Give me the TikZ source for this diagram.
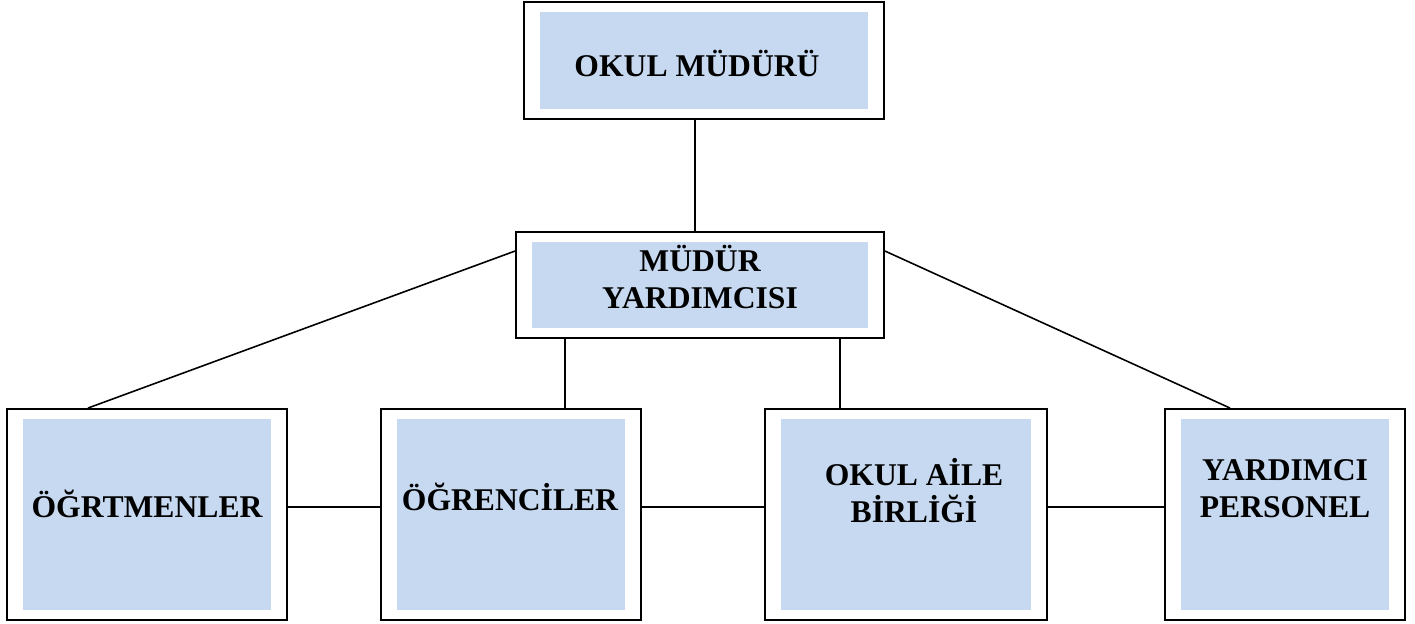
\documentclass[tikz,border=0pt]{standalone}
\usepackage{fontspec}
\setmainfont{Liberation Serif}
\definecolor{boxblue}{HTML}{C6D9F0}
\begin{document}
\begin{tikzpicture}[
    outerbox/.style={draw, line width=1.1pt, inner sep=0pt},
    label/.style={inner sep=0pt, anchor=base, align=center,
        font=\fontsize{18}{21}\selectfont\bfseries},
    conn/.style={line width=0.9pt}
]
    \useasboundingbox (0, 0) rectangle (28.3, -12.46);

    % Draw the outer boxes
    \node[outerbox, minimum width=7.2cm, minimum height=2.34cm] (mudur) at (14.08, -1.21) {};
    \node[outerbox, minimum width=7.36cm, minimum height=2.12cm] (yrd) at (14.0, -5.7) {};
    \node[outerbox, minimum width=5.6cm, minimum height=4.22cm] (ogrt) at (2.94, -10.29) {};
    \node[outerbox, minimum width=5.2cm, minimum height=4.22cm] (ogrnc) at (10.22, -10.29) {};
    \node[outerbox, minimum width=5.64cm, minimum height=4.22cm] (veli) at (18.12, -10.29) {};
    \node[outerbox, minimum width=4.8cm, minimum height=4.22cm] (pers) at (25.7, -10.29) {};

    % Fill the inner blue areas
    \foreach \b in {mudur, yrd, ogrt, ogrnc, veli, pers}
        \fill[boxblue] ([shift={(0.33, -0.22)}]\b.north west) rectangle ([shift={(-0.33, 0.22)}]\b.south east);

    % Add the texts (base = last line)
    \node[label] (mudurtxt) at (13.94, -1.53) {OKUL MÜDÜRÜ};
    \node[label] (yrdtxt) at (14.0, -6.16) {MÜDÜR\\YARDIMCISI};
    \node[label] (ogrttxt) at (2.94, -10.34) {ÖĞRTMENLER};
    \node[label] (ogrnctxt) at (10.2, -10.2) {ÖĞRENCİLER};
    \node[label] (velitxt) at (18.28, -10.44) {OKUL AİLE\\BİRLİĞİ};
    \node[label] (perstxt) at (25.7, -10.34) {YARDIMCI\\PERSONEL};

    % Draw the lines between the boxes
    \draw[conn] ([xshift=-0.18cm]mudur.south) -- ([xshift=-0.18cm]mudur.south |- yrd.north);
    \draw[conn] ([yshift=-0.4cm]yrd.north west) -- ([xshift=-1.18cm]ogrt.north);
    \draw[conn] ([yshift=-0.4cm]yrd.north east) -- ([xshift=-1.1cm]pers.north);
    \draw[conn] ([xshift=1cm]yrd.south west) -- ([xshift=1cm]yrd.south west |- ogrnc.north);
    \draw[conn] ([xshift=-0.9cm]yrd.south east) -- ([xshift=-0.9cm]yrd.south east |- veli.north);
    \draw[conn] ([yshift=0.15cm]ogrt.east) -- ([yshift=0.15cm]ogrnc.west);
    \draw[conn] ([yshift=0.15cm]ogrnc.east) -- ([yshift=0.15cm]veli.west);
    \draw[conn] ([yshift=0.15cm]veli.east) -- ([yshift=0.15cm]pers.west);
\end{tikzpicture}
\end{document}
